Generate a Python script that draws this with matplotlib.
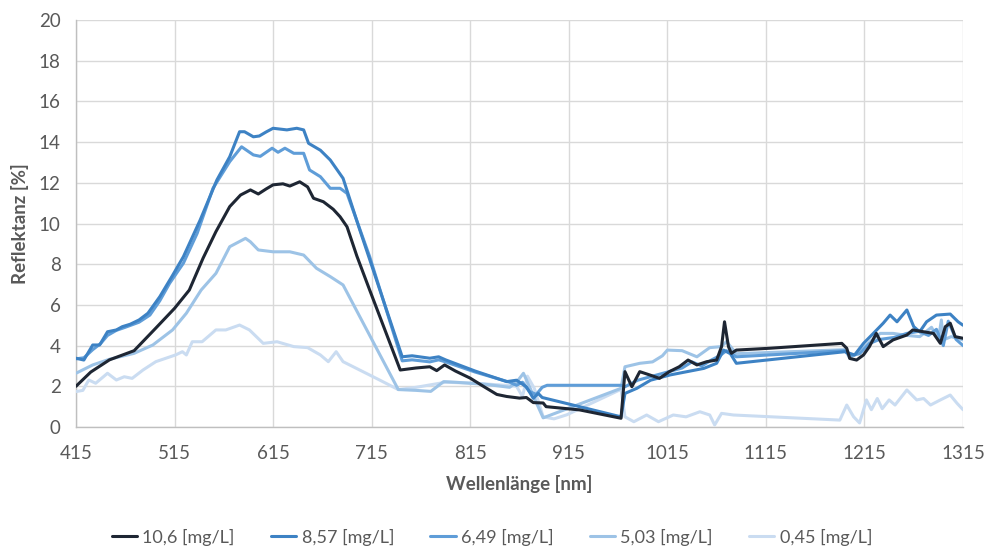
import matplotlib
matplotlib.use("Agg")
import matplotlib.pyplot as plt

plt.rcParams['font.family'] = ['Lato', 'DejaVu Sans']

# Reflektanzspektren fuer verschiedene Konzentrationen
labels = ['10,6 [mg/L]', '8,57 [mg/L]', '6,49 [mg/L]', '5,03 [mg/L]', '0,45 [mg/L]']
colors = ['#1e2633', '#3d82c4', '#5f9dd8', '#9dc3e6', '#cadcf1']

wl_106 = [415, 430, 449, 474, 496, 515, 530, 544, 557, 571, 582, 592, 600, 608, 615, 625, 632, 642, 650, 656,
          666, 676, 683, 690, 700, 713, 744, 760, 774, 781, 789, 800, 815, 830, 842, 852, 865, 872, 879, 889,
          892, 926, 968, 972, 979, 987, 997, 1007, 1017, 1027, 1036, 1045, 1055, 1065, 1070, 1073, 1077, 1080,
          1085, 1119, 1192, 1197, 1200, 1207, 1214, 1220, 1227, 1234, 1244, 1258, 1264, 1275, 1285, 1292, 1297,
          1302, 1307, 1315]
r_106 = [2.0, 2.7, 3.3, 3.75, 4.86, 5.83, 6.73, 8.3, 9.6, 10.83, 11.4, 11.65, 11.45, 11.7, 11.9, 11.95, 11.84,
         12.05, 11.8, 11.24, 11.07, 10.7, 10.33, 9.84, 8.4, 6.73, 2.8, 2.9, 2.96, 2.77, 3.05, 2.75, 2.4, 1.95,
         1.6, 1.5, 1.42, 1.45, 1.2, 1.18, 1.0, 0.84, 0.43, 2.72, 1.98, 2.72, 2.56, 2.39, 2.72, 2.96, 3.29, 3.05,
         3.21, 3.29, 3.95, 5.17, 3.95, 3.62, 3.78, 3.87, 4.11, 3.87, 3.37, 3.29, 3.54, 3.95, 4.6, 3.95, 4.28,
         4.52, 4.77, 4.68, 4.6, 4.11, 4.93, 5.1, 4.44, 4.36]

wl_857 = [415, 423, 432, 439, 447, 456, 462, 470, 479, 488, 500, 513, 524, 541, 558, 571, 581, 586, 595, 601,
          608, 615, 629, 639, 646, 651, 663, 673, 686, 703, 746, 756, 774, 783, 790, 820, 852, 862, 872, 879,
          884, 888, 968, 972, 984, 998, 1018, 1035, 1052, 1065, 1072, 1079, 1085, 1195, 1200, 1205, 1214, 1224,
          1234, 1241, 1248, 1258, 1265, 1271, 1278, 1288, 1302, 1310, 1315]
r_857 = [3.38, 3.29, 4.03, 4.03, 4.68, 4.77, 4.93, 5.05, 5.26, 5.59, 6.4, 7.45, 8.37, 10.17, 12.14, 13.28,
         14.51, 14.51, 14.26, 14.3, 14.5, 14.68, 14.6, 14.68, 14.6, 13.94, 13.6, 13.12, 12.22, 9.68, 3.45, 3.5,
         3.38, 3.45, 3.3, 2.75, 2.23, 2.3, 1.97, 1.41, 1.65, 1.45, 0.5, 1.65, 1.9, 2.3, 2.56, 2.72, 2.88, 3.13,
         3.78, 3.6, 3.13, 3.7, 3.62, 3.54, 4.11, 4.6, 5.1, 5.5, 5.17, 5.75, 4.93, 4.68, 5.17, 5.5, 5.55, 5.17,
         5.0]

wl_649 = [415, 423, 432, 440, 447, 456, 465, 479, 490, 500, 510, 524, 538, 554, 571, 583, 595, 602, 614, 620,
          627, 636, 646, 652, 663, 673, 683, 690, 713, 746, 756, 774, 783, 790, 820, 855, 862, 868, 875, 882,
          888, 893, 968, 972, 985, 1000, 1015, 1030, 1040, 1050, 1060, 1068, 1075, 1085, 1195, 1200, 1210, 1220,
          1230, 1245, 1258, 1270, 1280, 1288, 1295, 1300, 1308, 1315]
r_649 = [3.35, 3.4, 3.8, 4.1, 4.5, 4.75, 4.9, 5.15, 5.5, 6.2, 7.06, 8.05, 9.52, 11.73, 13.04, 13.77, 13.37,
         13.3, 13.7, 13.5, 13.7, 13.45, 13.45, 12.63, 12.3, 11.73, 11.73, 11.48, 8.37, 3.25, 3.3, 3.2, 3.3, 3.2,
         2.7, 2.2, 2.05, 2.2, 1.75, 1.6, 1.95, 2.05, 2.05, 1.98, 2.3, 2.5, 2.7, 2.9, 3.2, 3.0, 3.3, 3.5, 3.75,
         3.45, 3.75, 3.5, 3.6, 4.1, 4.3, 4.4, 4.6, 4.7, 4.5, 4.8, 4.0, 5.2, 4.3, 4.0]

wl_503 = [415, 432, 449, 474, 493, 513, 527, 542, 557, 564, 571, 587, 592, 600, 615, 632, 646, 659, 673, 686,
          742, 760, 775, 788, 800, 830, 855, 862, 869, 875, 882, 889, 968, 972, 987, 1000, 1010, 1015, 1030,
          1045, 1058, 1070, 1075, 1085, 1195, 1200, 1210, 1221, 1231, 1244, 1258, 1271, 1283, 1290, 1293, 1295,
          1303, 1315]
r_503 = [2.64, 3.05, 3.33, 3.62, 4.03, 4.77, 5.59, 6.73, 7.55, 8.2, 8.86, 9.27, 9.1, 8.7, 8.61, 8.61, 8.45,
         7.8, 7.39, 6.98, 1.84, 1.8, 1.75, 2.23, 2.2, 2.1, 1.95, 2.2, 2.64, 2.0, 1.2, 0.45, 1.9, 2.96, 3.13,
         3.2, 3.5, 3.78, 3.75, 3.45, 3.9, 3.95, 4.2, 3.6, 3.8, 3.4, 3.7, 4.2, 4.6, 4.6, 4.5, 4.44, 4.9, 4.3,
         5.26, 4.28, 4.44, 4.28]

wl_045 = [415, 422, 428, 435, 447, 456, 464, 472, 483, 496, 516, 523, 527, 533, 543, 557, 567, 581, 591, 605,
          619, 636, 650, 663, 671, 679, 686, 723, 742, 760, 790, 820, 850, 862, 868, 873, 880, 889, 900, 913,
          968, 972, 981, 994, 1006, 1021, 1034, 1048, 1058, 1063, 1070, 1082, 1190, 1197, 1204, 1210, 1217,
          1222, 1228, 1233, 1240, 1246, 1258, 1268, 1275, 1282, 1292, 1302, 1309, 1315]
r_045 = [1.74, 1.8, 2.31, 2.15, 2.64, 2.31, 2.47, 2.39, 2.8, 3.21, 3.54, 3.7, 3.54, 4.19, 4.19, 4.77, 4.77,
         5.01, 4.77, 4.11, 4.19, 3.95, 3.9, 3.54, 3.21, 3.7, 3.21, 2.31, 1.84, 1.95, 2.2, 2.15, 2.05, 2.0, 1.5,
         2.5, 1.9, 0.5, 0.4, 0.6, 1.85, 0.5, 0.26, 0.59, 0.26, 0.59, 0.5, 0.75, 0.59, 0.1, 0.67, 0.59, 0.34,
         1.08, 0.5, 0.2, 1.33, 0.85, 1.4, 0.9, 1.33, 1.08, 1.82, 1.33, 1.4, 1.08, 1.33, 1.57, 1.16, 0.85]

series = [(wl_106, r_106), (wl_857, r_857), (wl_649, r_649), (wl_503, r_503), (wl_045, r_045)]

xticks = list(range(415, 1316, 100))
yticks = list(range(0, 21, 2))

grau = '#595959'

fig = plt.figure(figsize=(9.84, 5.48), dpi=100)
ax = fig.add_axes([0.0772, 0.2208, 0.9015, 0.7427])

for i, (wl, r) in enumerate(series):
    ax.plot(wl, r, color=colors[i], lw=2.2, label=labels[i], zorder=10 - i,
            solid_joinstyle='round', solid_capstyle='round')

ax.set_xlim(415, 1315)
ax.set_ylim(0, 20)
ax.set_xticks(xticks)
ax.set_yticks(yticks)
ax.grid(True, color='#d9d9d9', lw=1.0)
ax.set_axisbelow(True)
for s in ['top', 'right']:
    ax.spines[s].set_visible(False)
for s in ['left', 'bottom']:
    ax.spines[s].set_color('#bfbfbf')
    ax.spines[s].set_linewidth(1.0)
ax.tick_params(axis='both', length=0, labelsize=13.5, labelcolor=grau)
ax.tick_params(axis='x', pad=13)
ax.tick_params(axis='y', pad=11)

ax.set_xlabel('Wellenlänge [nm]', fontsize=13.5, fontweight='bold', color=grau, labelpad=9)
ax.set_ylabel('Reflektanz [%]', fontsize=13.5, fontweight='bold', color=grau, labelpad=7)

fig.legend(loc='center', bbox_to_anchor=(0.5, 0.02), ncol=5, frameon=False, fontsize=13,
           handlelength=1.4, handletextpad=0.3, columnspacing=2.0, labelcolor=grau)

fig.savefig('out.png', dpi=100)
